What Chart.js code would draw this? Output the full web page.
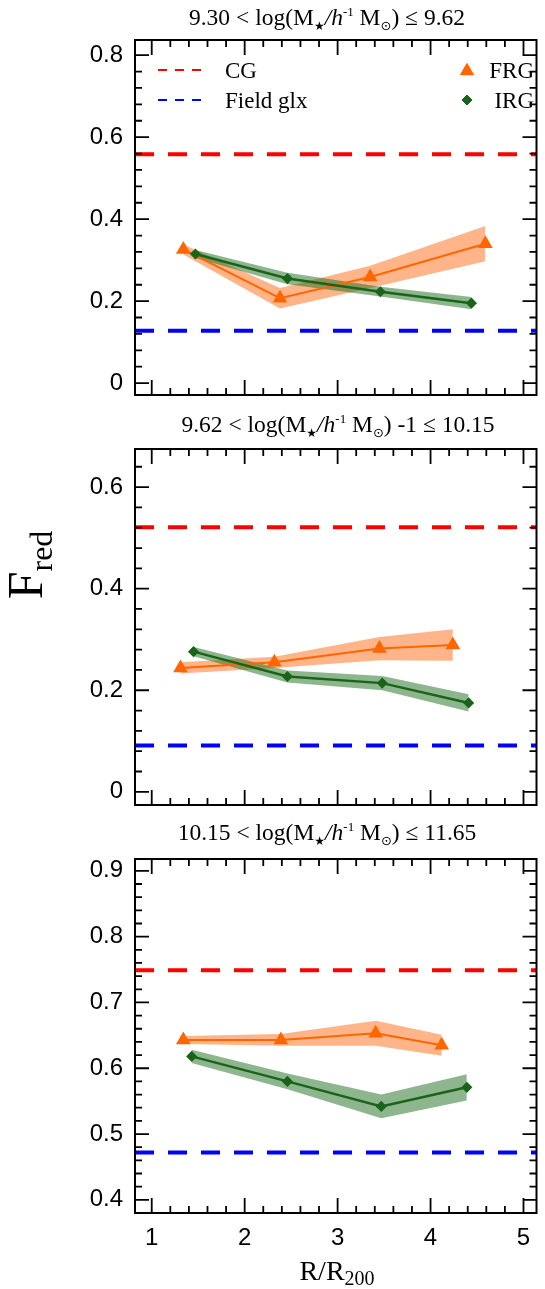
<!DOCTYPE html>
<html>
<head>
<meta charset="utf-8">
<script src="https://cdn.jsdelivr.net/npm/chart.js@4.4.0/dist/chart.umd.min.js"></script>
<style>
html, body { margin: 0; padding: 0; background: #fff; }
#wrap { position: relative; width: 545px; height: 1289px; }
.p { position: absolute; left: 0; width: 545px; }
canvas { display: block; }
</style>
</head>
<body>
<div id="wrap">
  <div class="p" style="top:0"><canvas id="c1" width="545" height="410"></canvas></div>
  <div class="p" style="top:410px"><canvas id="c2" width="545" height="410"></canvas></div>
  <div class="p" style="top:820px"><canvas id="c3" width="545" height="469"></canvas></div>
</div>
<script>
// x axis (R/R200), shared by the three panels
var xTicks = [1, 2, 3, 4, 5];
var xRange = [0.82, 5.14];

// panel 1 : 9.30 < log M <= 9.62
var frgR1 = [1.34, 2.38, 3.35, 4.59];
var frgF1 = [0.326, 0.207, 0.259, 0.340];
var frgE1 = [0.012, 0.025, 0.027, 0.043];
var irgR1 = [1.47, 2.46, 3.46, 4.44];
var irgF1 = [0.315, 0.255, 0.223, 0.195];
var irgE1 = [0.010, 0.014, 0.012, 0.015];
var cg1 = 0.558, field1 = 0.128;
var yTicks1 = [0, 0.2, 0.4, 0.6, 0.8];
var yRange1 = [-0.029, 0.837];

// panel 2 : 9.62 < log M <= 10.15
var frgR2 = [1.31, 2.32, 3.45, 4.24];
var frgF2 = [0.244, 0.255, 0.282, 0.289];
var frgE2 = [0.011, 0.011, 0.023, 0.031];
var irgR2 = [1.45, 2.46, 3.48, 4.41];
var irgF2 = [0.276, 0.227, 0.214, 0.175];
var irgE2 = [0.009, 0.012, 0.014, 0.017];
var cg2 = 0.521, field2 = 0.091;
var yTicks2 = [0, 0.2, 0.4, 0.6];
var yRange2 = [-0.026, 0.675];

// panel 3 : 10.15 < log M <= 11.65
var frgR3 = [1.34, 2.39, 3.41, 4.12];
var frgF3 = [0.643, 0.643, 0.653, 0.635];
var frgE3 = [0.006, 0.009, 0.019, 0.016];
var irgR3 = [1.43, 2.46, 3.47, 4.39];
var irgF3 = [0.618, 0.580, 0.542, 0.571];
var irgE3 = [0.010, 0.012, 0.018, 0.020];
var cg3 = 0.749, field3 = 0.472;
var yTicks3 = [0.4, 0.5, 0.6, 0.7, 0.8, 0.9];
var yRange3 = [0.380, 0.918];

var SERIF = '"Liberation Serif", "DejaVu Serif", serif';
var SANS = '"Liberation Sans", Arial, sans-serif';
var SYM = '"DejaVu Sans", sans-serif';

function pts(xs, ys, off) {
  return xs.map(function (x, i) { return { x: x, y: ys[i] + (off ? off[i] : 0) }; });
}
function neg(a) { return a.map(function (v) { return -v; }); }

function titleSegs(lo, hi, extra) {
  return [
    { t: lo + ' < log(M' },
    { t: '\u2605', size: 12, dy: 5, font: SYM },
    { t: '/h', italic: true },
    { t: '-1', size: 13, dy: -9 },
    { t: ' M' },
    { t: '\u2299', size: 13, dy: 5, font: SYM },
    { t: ')' + (extra || '') + ' \u2264 ' + hi }
  ];
}

function drawRich(ctx, segs, x, y, base) {
  var w = 0;
  segs.forEach(function (s) {
    ctx.font = (s.italic ? 'italic ' : '') + (s.size || base) + 'px ' + (s.font || SERIF);
    s.w = ctx.measureText(s.t).width;
    w += s.w;
  });
  var cx = x - w / 2;
  ctx.textAlign = 'left';
  ctx.textBaseline = 'alphabetic';
  segs.forEach(function (s) {
    ctx.font = (s.italic ? 'italic ' : '') + (s.size || base) + 'px ' + (s.font || SERIF);
    ctx.fillText(s.t, cx, y + (s.dy || 0));
    cx += s.w;
  });
}

function near(v, list) {
  for (var i = 0; i < list.length; i++) if (Math.abs(v - list[i]) < 1e-6) return true;
  return false;
}

var decor = {
  id: 'decor',
  afterDatasetsDraw: function (chart, args, o) {
    var ctx = chart.ctx, a = chart.chartArea;
    var xs = chart.scales.x, ys = chart.scales.y;
    ctx.save();
    // frame
    ctx.strokeStyle = '#000';
    ctx.lineWidth = 2;
    ctx.strokeRect(a.left, a.top, a.right - a.left, a.bottom - a.top);
    // inward ticks on all four sides
    ctx.lineWidth = 1.8;
    ctx.beginPath();
    xs.ticks.forEach(function (t) {
      var px = xs.getPixelForValue(t.value);
      var len = near(t.value, xTicks) ? 15 : 7;
      ctx.moveTo(px, a.bottom); ctx.lineTo(px, a.bottom - len);
      ctx.moveTo(px, a.top); ctx.lineTo(px, a.top + len);
    });
    ys.ticks.forEach(function (t) {
      var py = ys.getPixelForValue(t.value);
      var len = near(t.value, o.major) ? 14 : 7;
      ctx.moveTo(a.left, py); ctx.lineTo(a.left + len, py);
      ctx.moveTo(a.right, py); ctx.lineTo(a.right - len, py);
    });
    ctx.stroke();

    ctx.fillStyle = '#000';
    drawRich(ctx, o.title, o.titleX, o.titleY, 23.5);

    if (o.legend) {
      ctx.lineWidth = 2;
      ctx.setLineDash([9, 8]);
      ctx.strokeStyle = '#ff0000';
      ctx.beginPath(); ctx.moveTo(158, 70); ctx.lineTo(202, 70); ctx.stroke();
      ctx.strokeStyle = '#0000ff';
      ctx.beginPath(); ctx.moveTo(158, 100); ctx.lineTo(202, 100); ctx.stroke();
      ctx.setLineDash([]);
      ctx.fillStyle = '#000';
      ctx.font = '23px ' + SERIF;
      ctx.textBaseline = 'alphabetic';
      ctx.textAlign = 'left';
      ctx.fillText('CG', 225, 78);
      ctx.fillText('Field glx', 225, 108);
      ctx.textAlign = 'right';
      ctx.fillText('FRG', 534, 78);
      ctx.fillText('IRG', 534, 108);
      ctx.fillStyle = '#ff6600'; ctx.strokeStyle = '#ff6600'; ctx.lineWidth = 1;
      Chart.helpers.drawPoint(ctx, { pointStyle: 'triangle', radius: 7.5, rotation: 0, borderWidth: 1 }, 467, 71);
      ctx.fill();
      ctx.fillStyle = '#1a641a'; ctx.strokeStyle = '#1a641a';
      Chart.helpers.drawPoint(ctx, { pointStyle: 'rectRot', radius: 5, rotation: 0, borderWidth: 1 }, 467, 100);
      ctx.fill();
    }
    if (o.yLabel) {
      ctx.fillStyle = '#000';
      ctx.translate(42, o.yLabel);
      ctx.rotate(-Math.PI / 2);
      drawRich(ctx, [{ t: 'F', size: 50 }, { t: 'red', size: 32, dy: 10 }], 0, 0, 50);
    }
    ctx.restore();
    if (o.xLabel) {
      ctx.save();
      ctx.fillStyle = '#000';
      drawRich(ctx, [{ t: 'R/R', size: 28 }, { t: '200', size: 20, dy: 5 }], 337, o.xLabel, 28);
      ctx.restore();
    }
  }
};

function makePanel(id, p) {
  var minorY = [];
  for (var v = p.yMajor[0]; v <= p.yRange[1] + 1e-9; v += p.yStep) minorY.push(Math.round(v * 1000) / 1000);
  var minorX = [];
  for (var xv = 1; xv <= 5 + 1e-9; xv += 0.2) minorX.push(Math.round(xv * 10) / 10);

  var frgUp = pts(p.frgR, p.frgF, p.frgE), frgLo = pts(p.frgR, p.frgF, neg(p.frgE));
  var irgUp = pts(p.irgR, p.irgF, p.irgE), irgLo = pts(p.irgR, p.irgF, neg(p.irgE));
  var flat = function (y) { return [{ x: xRange[0], y: y }, { x: xRange[1], y: y }]; };

  new Chart(document.getElementById(id), {
    type: 'line',
    data: {
      datasets: [
        { label: 'IRG', data: pts(p.irgR, p.irgF), borderColor: '#1a641a', backgroundColor: '#1a641a',
          borderWidth: 2.5, pointStyle: 'rectRot', pointRadius: 3.8, order: 0 },
        { label: 'FRG', data: pts(p.frgR, p.frgF), borderColor: '#ff6600', backgroundColor: '#ff6600',
          borderWidth: 2, pointStyle: 'triangle', pointRadius: 6.5, order: 1 },
        { label: 'irgUp', data: irgUp, borderWidth: 0, pointRadius: 0, fill: 3,
          backgroundColor: 'rgba(30,110,30,0.5)', order: 2 },
        { label: 'irgLo', data: irgLo, borderWidth: 0, pointRadius: 0, fill: false, order: 2 },
        { label: 'frgUp', data: frgUp, borderWidth: 0, pointRadius: 0, fill: 5,
          backgroundColor: 'rgba(255,120,40,0.55)', order: 3 },
        { label: 'frgLo', data: frgLo, borderWidth: 0, pointRadius: 0, fill: false, order: 3 },
        { label: 'CG', data: flat(p.cg), borderColor: '#ff0000', borderWidth: 4, borderDash: [19, 14],
          pointRadius: 0, fill: false, order: 4 },
        { label: 'Field glx', data: flat(p.field), borderColor: '#0000ff', borderWidth: 4, borderDash: [19, 14],
          pointRadius: 0, fill: false, order: 4 }
      ]
    },
    options: {
      responsive: false,
      animation: false,
      events: [],
      layout: { padding: { top: p.padTop, right: 2, bottom: p.padBottom, left: 0 } },
      elements: { line: { tension: 0 } },
      plugins: {
        legend: { display: false },
        tooltip: { enabled: false },
        decor: { title: p.title, titleX: p.titleX, titleY: p.titleY, major: p.yMajor,
                 legend: p.legend, yLabel: p.yLabel, xLabel: p.xLabel }
      },
      scales: {
        x: {
          type: 'linear', min: xRange[0], max: xRange[1],
          grid: { display: false, drawTicks: false }, border: { display: false },
          afterBuildTicks: function (s) { s.ticks = minorX.map(function (v) { return { value: v }; }); },
          afterFit: function (s) { s.height = p.xHeight; s.paddingLeft = 0; s.paddingRight = 0; },
          ticks: {
            display: p.xLabels, autoSkip: false, maxRotation: 0, padding: 11, color: '#000',
            font: { family: SANS, size: 24 },
            callback: function (v) { return near(v, xTicks) ? String(Math.round(v)) : ''; }
          }
        },
        y: {
          type: 'linear', min: p.yRange[0], max: p.yRange[1],
          grid: { display: false, drawTicks: false }, border: { display: false },
          afterBuildTicks: function (s) { s.ticks = minorY.map(function (v) { return { value: v }; }); },
          afterFit: function (s) { s.width = 135; s.paddingTop = 0; s.paddingBottom = 0; },
          ticks: {
            autoSkip: false, padding: 12, color: '#000',
            font: { family: SANS, size: 24 },
            callback: function (v) { return near(v, p.yMajor) ? (v === 0 ? '0' : v.toFixed(1)) : ''; }
          }
        }
      }
    },
    plugins: [decor]
  });
}

makePanel('c1', {
  frgR: frgR1, frgF: frgF1, frgE: frgE1, irgR: irgR1, irgF: irgF1, irgE: irgE1,
  cg: cg1, field: field1, yMajor: yTicks1, yRange: yRange1, yStep: 0.04,
  padTop: 40, padBottom: 15, xHeight: 0, xLabels: false,
  title: titleSegs('9.30', '9.62'), titleX: 327, titleY: 25, legend: true
});
makePanel('c2', {
  frgR: frgR2, frgF: frgF2, frgE: frgE2, irgR: irgR2, irgF: irgF2, irgE: irgE2,
  cg: cg2, field: field2, yMajor: yTicks2, yRange: yRange2, yStep: 0.04,
  padTop: 39, padBottom: 15, xHeight: 0, xLabels: false,
  title: titleSegs('9.62', '10.15', ' -1'), titleX: 338, titleY: 22, yLabel: 155
});
makePanel('c3', {
  frgR: frgR3, frgF: frgF3, frgE: frgE3, irgR: irgR3, irgF: irgF3, irgE: irgE3,
  cg: cg3, field: field3, yMajor: yTicks3, yRange: yRange3, yStep: 0.02,
  padTop: 39, padBottom: 0, xHeight: 76, xLabels: true,
  title: titleSegs('10.15', '11.65'), titleX: 327, titleY: 20, xLabel: 460
});
</script>
</body>
</html>
